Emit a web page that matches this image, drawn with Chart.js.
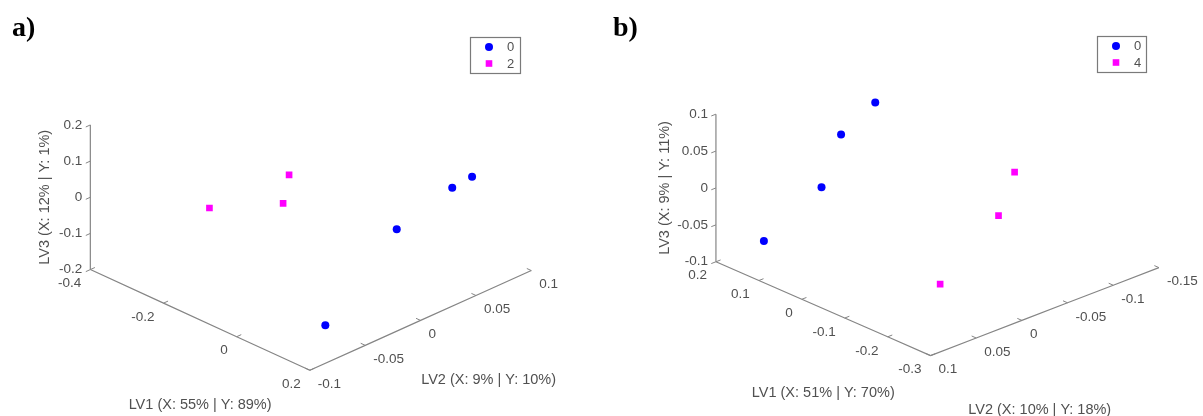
<!DOCTYPE html>
<html>
<head>
<meta charset="utf-8">
<script src="https://cdn.jsdelivr.net/npm/chart.js@4.4.1/dist/chart.umd.min.js"></script>
<style>
  html, body { margin: 0; padding: 0; background: #ffffff; }
  #wrap { position: relative; width: 1203px; height: 416px; overflow: hidden; }
  #wrap canvas { position: absolute; top: 0; }
</style>
</head>
<body>
<div id="wrap">
  <canvas id="panelA" width="600" height="416" style="left:0px"></canvas>
  <canvas id="panelB" width="603" height="416" style="left:600px"></canvas>
</div>
<script>
// ---------- panel a: latent-variable scores, classes 0 and 2 ----------
const aClassNames = ['0', '2'];
const aC0_LV1 = [0.050, 0.120, 0.150, 0.100];
const aC0_LV2 = [0.028, 0.055, 0.063, -0.053];
const aC0_LV3 = [-0.056, 0.054, 0.087, -0.187];
const aC2_LV1 = [-0.250, -0.200, -0.220];
const aC2_LV2 = [-0.042, 0.008, 0.020];
const aC2_LV3 = [-0.040, -0.073, -0.020];
const aTicksLV1 = [-0.4, -0.2, 0, 0.2];
const aTicksLV2 = [-0.1, -0.05, 0, 0.05, 0.1];
const aTicksLV3 = [-0.2, -0.1, 0, 0.1, 0.2];
const aAxisTitles = ['LV1 (X: 55% | Y: 89%)', 'LV2 (X: 9% | Y: 10%)', 'LV3 (X: 12% | Y: 1%)'];

// ---------- panel b: latent-variable scores, classes 0 and 4 ----------
const bClassNames = ['0', '4'];
const bC0_LV1 = [0.150, 0.120, 0.100, 0.080];
const bC0_LV2 = [0.071, 0.022, 0.010, -0.018];
const bC0_LV3 = [-0.073, -0.016, 0.055, 0.090];
const bC4_LV1 = [-0.200, -0.220, -0.250];
const bC4_LV2 = [-0.039, -0.012, 0.066];
const bC4_LV3 = [0.057, 0.016, -0.032];
const bTicksLV1 = [-0.3, -0.2, -0.1, 0, 0.1, 0.2];
const bTicksLV2 = [-0.15, -0.1, -0.05, 0, 0.05, 0.1];
const bTicksLV3 = [-0.1, -0.05, 0, 0.05, 0.1];
const bAxisTitles = ['LV1 (X: 51% | Y: 70%)', 'LV2 (X: 10% | Y: 18%)', 'LV3 (X: 9% | Y: 11%)'];

const CANVAS_H = 416;
const TEXT_COLOR = '#505050';
const AXIS_COLOR = '#858585';
const SANS = "'Liberation Sans', Arial, Helvetica, sans-serif";
const SERIF = "'Liberation Serif', 'Times New Roman', serif";

// Oblique view of the 3-D box: a reference corner, where it lands on the
// canvas, and the on-canvas displacement per unit of LV1, LV2 and LV3.
const viewA = {
  ref: [-0.4, -0.1, -0.2], origin: [87, 271],
  v: [[371.7, 171.7], [1125, -510], [0, -370]],
  anchors: [[null, -0.1, -0.2], [0.2, null, -0.2], [-0.4, -0.1, null]],
  tickDir: [[1, 1], [0, -1], [1, -1]],
  titleOffset: [[0, 85], [68, 60], [-45, 0]],
  legendBox: { x: 470, y: 37, w: 50, h: 36 },
  letter: { text: 'a)', x: 12, y: 36 }
};
const viewB = {
  ref: [0.2, 0.1, -0.1], origin: [113, 263],
  v: [[-436, -192], [-928, 360], [0, -755]],
  anchors: [[null, 0.1, -0.1], [-0.3, null, -0.1], [0.2, 0.1, null]],
  tickDir: [[1, -1], [0, 1], [1, 1]],
  titleOffset: [[0, 84], [-5, 98], [-51, 0]],
  legendBox: { x: 497, y: 36, w: 49, h: 36 },
  letter: { text: 'b)', x: 13, y: 36 }
};

function project(view, p) {
  let x = view.origin[0], y = view.origin[1];
  for (let k = 0; k < 3; k++) {
    const d = p[k] - view.ref[k];
    x += d * view.v[k][0];
    y += d * view.v[k][1];
  }
  return { x, y };
}

function zip3(a, b, c) {
  return a.map((v, i) => [v, b[i], c[i]]);
}

function axisPoint(view, axis, value) {
  const p = view.anchors[axis].slice();
  p[axis] = value;
  return p;
}

function fmt(v) {
  return String(Math.round(v * 1000) / 1000);
}

// Ticks, tick labels, axis titles, legend and panel letter
function makeDecorations(view, ticks, titles) {
  return {
    id: 'decorations3d',
    afterDatasetsDraw(chart) {
      const ctx = chart.ctx;
      const sx = chart.scales.x, sy = chart.scales.y;
      const px = (q) => ({ x: sx.getPixelForValue(q.x), y: sy.getPixelForValue(q.y) });
      ctx.save();

      for (let axis = 0; axis < 3; axis++) {
        const [dirAxis, sign] = view.tickDir[axis];
        const dv = view.v[dirAxis];
        const len = Math.hypot(dv[0], dv[1]);
        const tx = sign * dv[0] / len * 5, ty = sign * dv[1] / len * 5;

        ticks[axis].forEach((t) => {
          const q = px(project(view, axisPoint(view, axis, t)));
          ctx.strokeStyle = AXIS_COLOR;
          ctx.lineWidth = 1;
          ctx.beginPath();
          ctx.moveTo(q.x, q.y);
          ctx.lineTo(q.x + tx, q.y + ty);
          ctx.stroke();

          ctx.fillStyle = TEXT_COLOR;
          ctx.font = '13.5px ' + SANS;
          ctx.textBaseline = 'middle';
          if (axis === 0) { ctx.textAlign = 'right'; ctx.fillText(fmt(t), q.x - 9, q.y + 14); }
          else if (axis === 1) { ctx.textAlign = 'left'; ctx.fillText(fmt(t), q.x + 8, q.y + 14); }
          else { ctx.textAlign = 'right'; ctx.fillText(fmt(t), q.x - 8, q.y); }
        });

        const lo = ticks[axis][0], hi = ticks[axis][ticks[axis].length - 1];
        const m = px(project(view, axisPoint(view, axis, (lo + hi) / 2)));
        const off = view.titleOffset[axis];
        ctx.fillStyle = TEXT_COLOR;
        ctx.font = '14.5px ' + SANS;
        ctx.textAlign = 'center';
        ctx.textBaseline = 'middle';
        if (axis === 2) {
          ctx.save();
          ctx.translate(m.x + off[0], m.y + off[1]);
          ctx.rotate(-Math.PI / 2);
          ctx.fillText(titles[axis], 0, 0);
          ctx.restore();
        } else {
          ctx.fillText(titles[axis], m.x + off[0], m.y + off[1]);
        }
      }

      // legend
      const b = view.legendBox;
      ctx.fillStyle = '#ffffff';
      ctx.fillRect(b.x, b.y, b.w, b.h);
      ctx.strokeStyle = '#7a7a7a';
      ctx.lineWidth = 1.2;
      ctx.strokeRect(b.x + 0.5, b.y + 0.5, b.w, b.h);
      const pointSets = chart.data.datasets.filter((d) => !d.showLine);
      pointSets.forEach((d, i) => {
        const cy = b.y + 10 + i * 16.5;
        const cx = b.x + 19;
        ctx.fillStyle = d.backgroundColor;
        if (d.pointStyle === 'circle') {
          ctx.beginPath();
          ctx.arc(cx, cy, 4, 0, Math.PI * 2);
          ctx.fill();
        } else {
          ctx.fillRect(cx - 3.3, cy - 3.3, 6.6, 6.6);
        }
        ctx.fillStyle = TEXT_COLOR;
        ctx.font = '13px ' + SANS;
        ctx.textAlign = 'left';
        ctx.textBaseline = 'middle';
        ctx.fillText(d.label, b.x + 37, cy + 0.5);
      });

      // panel letter
      ctx.fillStyle = '#000000';
      ctx.font = 'bold 28px ' + SERIF;
      ctx.textAlign = 'left';
      ctx.textBaseline = 'alphabetic';
      ctx.fillText(view.letter.text, view.letter.x, view.letter.y);

      ctx.restore();
    }
  };
}

function makePanel(canvasId, width, view, classNames, series, ticks, titles) {
  const styles = [
    { color: '#0000ff', pointStyle: 'circle', radius: 4 },
    { color: '#ff00ff', pointStyle: 'rect', radius: 4.7 }
  ];
  const datasets = series.map((pts, i) => ({
    label: classNames[i],
    data: pts.map((p) => project(view, p)),
    pointStyle: styles[i].pointStyle,
    pointRadius: styles[i].radius,
    backgroundColor: styles[i].color,
    borderColor: styles[i].color,
    borderWidth: 0,
    showLine: false
  }));
  for (let axis = 0; axis < 3; axis++) {
    datasets.push({
      label: 'axis' + (axis + 1),
      data: ticks[axis].map((t) => project(view, axisPoint(view, axis, t))),
      showLine: true,
      borderColor: AXIS_COLOR,
      borderWidth: 1.2,
      pointRadius: 0,
      fill: false
    });
  }
  return new Chart(document.getElementById(canvasId), {
    type: 'scatter',
    data: { datasets },
    options: {
      responsive: false,
      animation: false,
      events: [],
      layout: { padding: 0 },
      plugins: { legend: { display: false }, tooltip: { enabled: false } },
      scales: {
        x: { type: 'linear', min: 0, max: width, display: false },
        y: { type: 'linear', min: 0, max: CANVAS_H, reverse: true, display: false }
      }
    },
    plugins: [makeDecorations(view, ticks, titles)]
  });
}

makePanel('panelA', 600, viewA, aClassNames,
  [zip3(aC0_LV1, aC0_LV2, aC0_LV3), zip3(aC2_LV1, aC2_LV2, aC2_LV3)],
  [aTicksLV1, aTicksLV2, aTicksLV3], aAxisTitles);

makePanel('panelB', 603, viewB, bClassNames,
  [zip3(bC0_LV1, bC0_LV2, bC0_LV3), zip3(bC4_LV1, bC4_LV2, bC4_LV3)],
  [bTicksLV1, bTicksLV2, bTicksLV3], bAxisTitles);
</script>
</body>
</html>
